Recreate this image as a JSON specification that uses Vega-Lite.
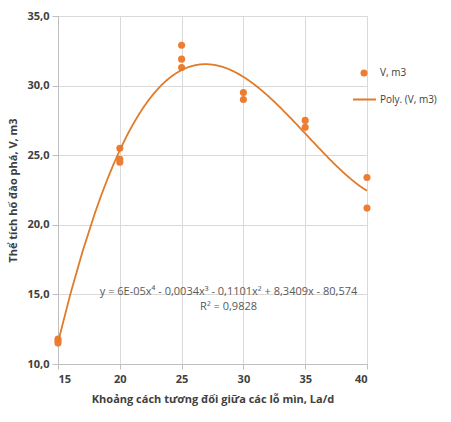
{
  "$schema": "https://vega.github.io/schema/vega-lite/v6.json",
  "width": 309,
  "height": 348,
  "autosize": "none",
  "padding": {"left": 58, "top": 16, "right": 84, "bottom": 58},
  "background": "white",
  "config": {
    "font": "Open Sans",
    "view": {"stroke": null},
    "axis": {
      "gridColor": "#D9D9D9",
      "gridWidth": 1,
      "domainColor": "#BFBFBF",
      "tickColor": "#BFBFBF",
      "labelFont": "Open Sans",
      "labelFontSize": 11,
      "labelFontWeight": "bold",
      "labelColor": "#404040",
      "titleFont": "Open Sans",
      "titleFontSize": 11,
      "titleFontWeight": "bold",
      "titleColor": "#404040"
    }
  },
  "data": {
    "values": [
      {"x": 15, "v": 11.8}, {"x": 15, "v": 11.65}, {"x": 15, "v": 11.5},
      {"x": 20, "v": 25.5}, {"x": 20, "v": 24.7}, {"x": 20, "v": 24.5},
      {"x": 25, "v": 32.9}, {"x": 25, "v": 31.9}, {"x": 25, "v": 31.3},
      {"x": 30, "v": 29.5}, {"x": 30, "v": 29.0},
      {"x": 35, "v": 27.5}, {"x": 35, "v": 27.0},
      {"x": 40, "v": 23.4}, {"x": 40, "v": 21.2}
    ]
  },
  "layer": [
    {
      "mark": {"type": "point", "filled": true, "opacity": 1, "color": "#ED7D31", "size": 50},
      "encoding": {
        "x": {
          "field": "x", "type": "quantitative",
          "scale": {"domain": [15, 40], "nice": false, "zero": false},
          "axis": {"values": [15, 20, 25, 30, 35, 40], "tickSize": 5, "labelPadding": 4, "title": "Khoảng cách tương đối giữa các lỗ mìn, La/d", "titlePadding": 9}
        },
        "y": {
          "field": "v", "type": "quantitative",
          "scale": {"domain": [10, 35], "nice": false, "zero": false},
          "axis": {"values": [10, 15, 20, 25, 30, 35], "tickSize": 6, "labelPadding": 3, "labelExpr": "replace(format(datum.value, '.1f'), '.', ',')", "title": "Thể tích hố đào phá,  V, m3", "titlePadding": 8}
        },
        "shape": {
          "datum": "V, m3",
          "scale": {"range": ["circle"]},
          "legend": {"title": null, "orient": "none", "legendX": 301, "legendY": 52, "labelOffset": 11, "symbolFillColor": "#ED7D31", "symbolStrokeColor": "#ED7D31", "symbolSize": 50, "labelFontSize": 10, "labelColor": "#404040", "labelFont": "Open Sans"}
        }
      }
    },
    {
      "transform": [{"regression": "v", "on": "x", "method": "poly", "order": 4, "extent": [15, 40]}],
      "mark": {"type": "line", "color": "#E07B2A", "strokeWidth": 1.8},
      "encoding": {
        "x": {"field": "x", "type": "quantitative"},
        "y": {"field": "v", "type": "quantitative"},
        "strokeDash": {
          "datum": "Poly. (V, m3)",
          "scale": {"range": [[1, 0]]},
          "legend": {"title": null, "orient": "none", "legendX": 294, "legendY": 71, "labelOffset": 3, "symbolType": "stroke", "symbolStrokeColor": "#E07B2A", "symbolStrokeWidth": 2, "symbolSize": 529, "labelFontSize": 10, "labelColor": "#404040", "labelFont": "Open Sans"}
        }
      }
    },
    {
      "data": {
        "values": [
          {"tx": 28.8, "ty": 15.17, "label": "y = 6E-05x⁴ - 0,0034x³ - 0,1101x² + 8,3409x - 80,574"},
          {"tx": 28.8, "ty": 14.1, "label": "R² = 0,9828"}
        ]
      },
      "mark": {"type": "text", "fontSize": 11, "color": "#595959", "font": "Open Sans", "align": "center", "baseline": "middle"},
      "encoding": {
        "x": {"field": "tx", "type": "quantitative"},
        "y": {"field": "ty", "type": "quantitative"},
        "text": {"field": "label"}
      }
    }
  ]
}
